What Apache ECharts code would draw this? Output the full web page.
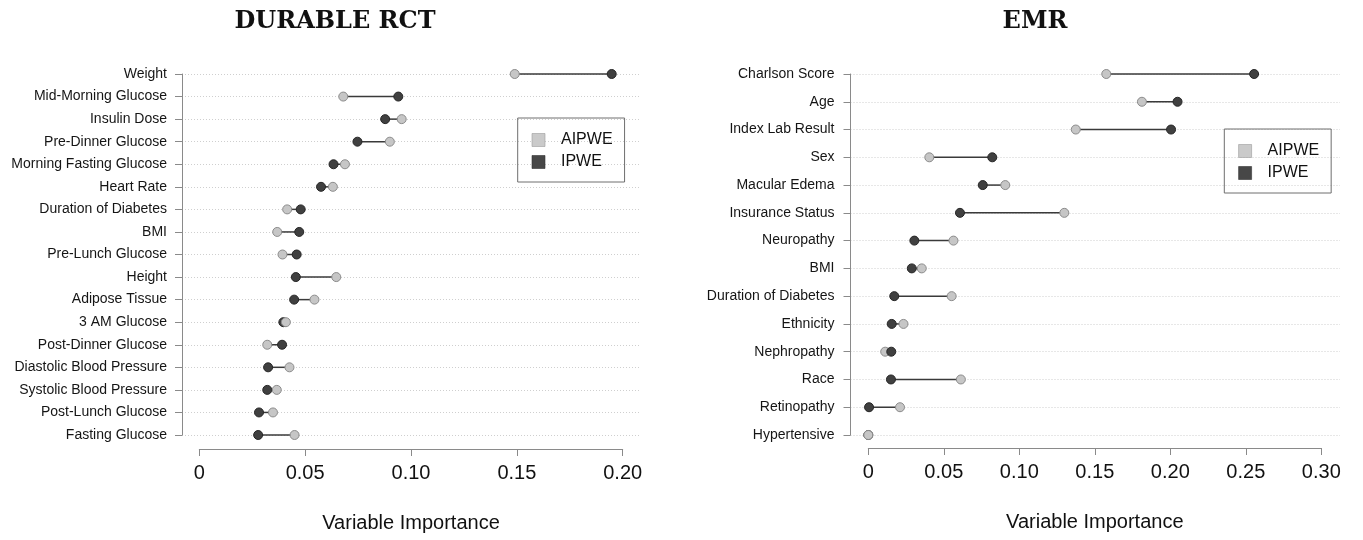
<!DOCTYPE html>
<html>
<head>
<meta charset="utf-8">
<title>Variable Importance</title>
<script src="https://cdn.jsdelivr.net/npm/echarts@6.0.0/dist/echarts.min.js"></script>
<style>
	html, body { margin: 0; padding: 0; background: #fff; }
	#main { width: 1363px; height: 540px; }
</style>
</head>
<body>
<div id="main"></div>
<script>
// DURABLE RCT panel (sorted by IPWE)
let rctVars = ['Weight', 'Mid-Morning Glucose', 'Insulin Dose', 'Pre-Dinner Glucose', 'Morning Fasting Glucose',
	'Heart Rate', 'Duration of Diabetes', 'BMI', 'Pre-Lunch Glucose', 'Height', 'Adipose Tissue', '3 AM Glucose',
	'Post-Dinner Glucose', 'Diastolic Blood Pressure', 'Systolic Blood Pressure', 'Post-Lunch Glucose', 'Fasting Glucose'];
let rctAipwe = [0.149, 0.068, 0.0956, 0.090, 0.0688, 0.0631, 0.0415, 0.0368, 0.0393, 0.0647, 0.0544, 0.0409,
	0.0321, 0.0426, 0.0366, 0.0348, 0.0450];
let rctIpwe = [0.1948, 0.094, 0.0878, 0.0747, 0.0634, 0.0575, 0.0479, 0.0472, 0.0460, 0.0456, 0.0448, 0.0397,
	0.0391, 0.0325, 0.0321, 0.0282, 0.0278];

// EMR panel
let emrVars = ['Charlson Score', 'Age', 'Index Lab Result', 'Sex', 'Macular Edema', 'Insurance Status', 'Neuropathy',
	'BMI', 'Duration of Diabetes', 'Ethnicity', 'Nephropathy', 'Race', 'Retinopathy', 'Hypertensive'];
let emrAipwe = [0.1576, 0.1812, 0.1374, 0.0404, 0.0907, 0.1298, 0.0564, 0.0354, 0.0552, 0.0233, 0.0112, 0.0613, 0.0210, 0];
let emrIpwe = [0.2555, 0.2048, 0.2005, 0.0821, 0.0758, 0.0607, 0.0305, 0.0288, 0.0172, 0.0155, 0.0152, 0.0150, 0.0005, 0];

let panelTitles = ['DURABLE RCT', 'EMR'];
let seriesNames = ['AIPWE', 'IPWE'];
let axisTitle = 'Variable Importance';
let rctMax = 0.20;
let emrMax = 0.30;
let tickStep = 0.05;

let sans = '"Liberation Sans", Arial, Helvetica, sans-serif';
let aipweFill = '#c6c6c6';
let aipweEdge = '#8c8c8c';
let ipweFill = '#404040';
let ipweEdge = '#262626';
let axisGray = '#8a8a8a';

let myChart = echarts.init(document.getElementById('main'));

// one dumbbell per row: segment + two dots, larger value drawn on top
function renderDumbbell(params, api) {
	let a = api.coord([api.value(0), api.value(2)]);
	let b = api.coord([api.value(1), api.value(2)]);
	let dotA = {
		type: 'circle',
		shape: { cx: a[0], cy: a[1], r: 4.5 },
		style: { fill: aipweFill, stroke: aipweEdge, lineWidth: 1 }
	};
	let dotB = {
		type: 'circle',
		shape: { cx: b[0], cy: b[1], r: 4.5 },
		style: { fill: ipweFill, stroke: ipweEdge, lineWidth: 1 }
	};
	let dots = api.value(0) >= api.value(1) ? [dotB, dotA] : [dotA, dotB];
	return {
		type: 'group',
		children: [{
			type: 'line',
			shape: { x1: a[0], y1: a[1], x2: b[0], y2: b[1] },
			style: { stroke: '#3a3a3a', lineWidth: 1.5 }
		}].concat(dots)
	};
}

// category axis that carries labels, ticks and dotted row lines
function frameYAxis(idx, cats, margin) {
	return {
		gridIndex: idx,
		type: 'category',
		data: cats,
		inverse: true,
		boundaryGap: false,
		axisLine: { show: true, lineStyle: { color: axisGray, width: 1 } },
		axisTick: { show: true, length: 7, interval: 0, lineStyle: { color: axisGray } },
		axisLabel: { interval: 0, margin: margin, fontFamily: sans, fontSize: 14, color: '#151515' },
		splitLine: { show: true, interval: 0, lineStyle: { color: '#cfcfcf', width: 1, type: [1, 2] } }
	};
}

function hiddenYAxis(idx, cats) {
	return { gridIndex: idx, type: 'category', data: cats, inverse: true, boundaryGap: false, show: false };
}

function valueXAxis(idx, max, offset) {
	return {
		gridIndex: idx,
		type: 'value',
		min: 0,
		max: max,
		interval: tickStep,
		offset: offset,
		axisLine: { show: true, lineStyle: { color: axisGray, width: 1 } },
		axisTick: { show: true, length: 7, lineStyle: { color: axisGray } },
		axisLabel: {
			margin: 14,
			fontFamily: sans,
			fontSize: 20,
			color: '#111',
			formatter: v => v === 0 ? '0' : v.toFixed(2)
		},
		splitLine: { show: false },
		name: axisTitle,
		nameLocation: 'middle',
		nameGap: 64,
		nameTextStyle: { fontFamily: sans, fontSize: 20, color: '#111' }
	};
}

function legendAt(left, top) {
	return {
		left: left,
		top: top,
		orient: 'vertical',
		data: seriesNames,
		icon: 'rect',
		itemWidth: 13,
		itemHeight: 13,
		itemGap: 6,
		padding: [14, 12, 12, 14],
		borderColor: '#6e6e6e',
		borderWidth: 1,
		selectedMode: false,
		itemStyle: { borderWidth: 0.6, opacity: 1 },
		textStyle: { fontFamily: sans, fontSize: 16, lineHeight: 16, color: '#111', padding: [0, 0, 0, 11] }
	};
}

function rows(aipwe, ipwe) {
	return aipwe.map((v, i) => [v, ipwe[i], i]);
}

let titleFont = { fontFamily: '"DejaVu Serif", serif', fontWeight: 'bold', fontSize: 24, color: '#111' };

let option = {
	backgroundColor: '#fff',
	animation: false,
	title: [{
		text: panelTitles[0],
		left: 335,
		top: 10,
		padding: 0,
		textAlign: 'center',
		textStyle: titleFont
	}, {
		text: panelTitles[1],
		left: 1035,
		top: 10,
		padding: 0,
		textAlign: 'center',
		textStyle: titleFont
	}],
	legend: [legendAt(517.7, 118), legendAt(1224.3, 129)],
	// 0/2: frame with row lines, 1/3: plotting area matching the value axis
	grid: [
		{ left: 182, top: 74, width: 458, height: 361 },
		{ left: 199.3, top: 74, width: 423.4, height: 361 },
		{ left: 850.5, top: 74, width: 489.5, height: 361 },
		{ left: 868.3, top: 74, width: 453, height: 361 }
	],
	xAxis: [
		{ gridIndex: 0, type: 'value', show: false },
		valueXAxis(1, rctMax, 14),
		{ gridIndex: 2, type: 'value', show: false },
		valueXAxis(3, emrMax, 13)
	],
	yAxis: [
		frameYAxis(0, rctVars, 15),
		hiddenYAxis(1, rctVars),
		frameYAxis(2, emrVars, 16),
		hiddenYAxis(3, emrVars)
	],
	series: [{
		type: 'custom',
		name: 'rct',
		xAxisIndex: 1,
		yAxisIndex: 1,
		renderItem: renderDumbbell,
		encode: { x: [0, 1], y: 2 },
		data: rows(rctAipwe, rctIpwe)
	}, {
		type: 'custom',
		name: 'emr',
		xAxisIndex: 3,
		yAxisIndex: 3,
		renderItem: renderDumbbell,
		encode: { x: [0, 1], y: 2 },
		data: rows(emrAipwe, emrIpwe)
	}, {
		// legend entries only
		type: 'scatter',
		name: seriesNames[0],
		xAxisIndex: 1,
		yAxisIndex: 1,
		data: [],
		itemStyle: { color: '#cacaca', borderColor: '#9a9a9a', opacity: 1 }
	}, {
		type: 'scatter',
		name: seriesNames[1],
		xAxisIndex: 1,
		yAxisIndex: 1,
		data: [],
		itemStyle: { color: '#474747', borderColor: '#333', opacity: 1 }
	}]
};
myChart.setOption(option);
</script>
</body>
</html>
